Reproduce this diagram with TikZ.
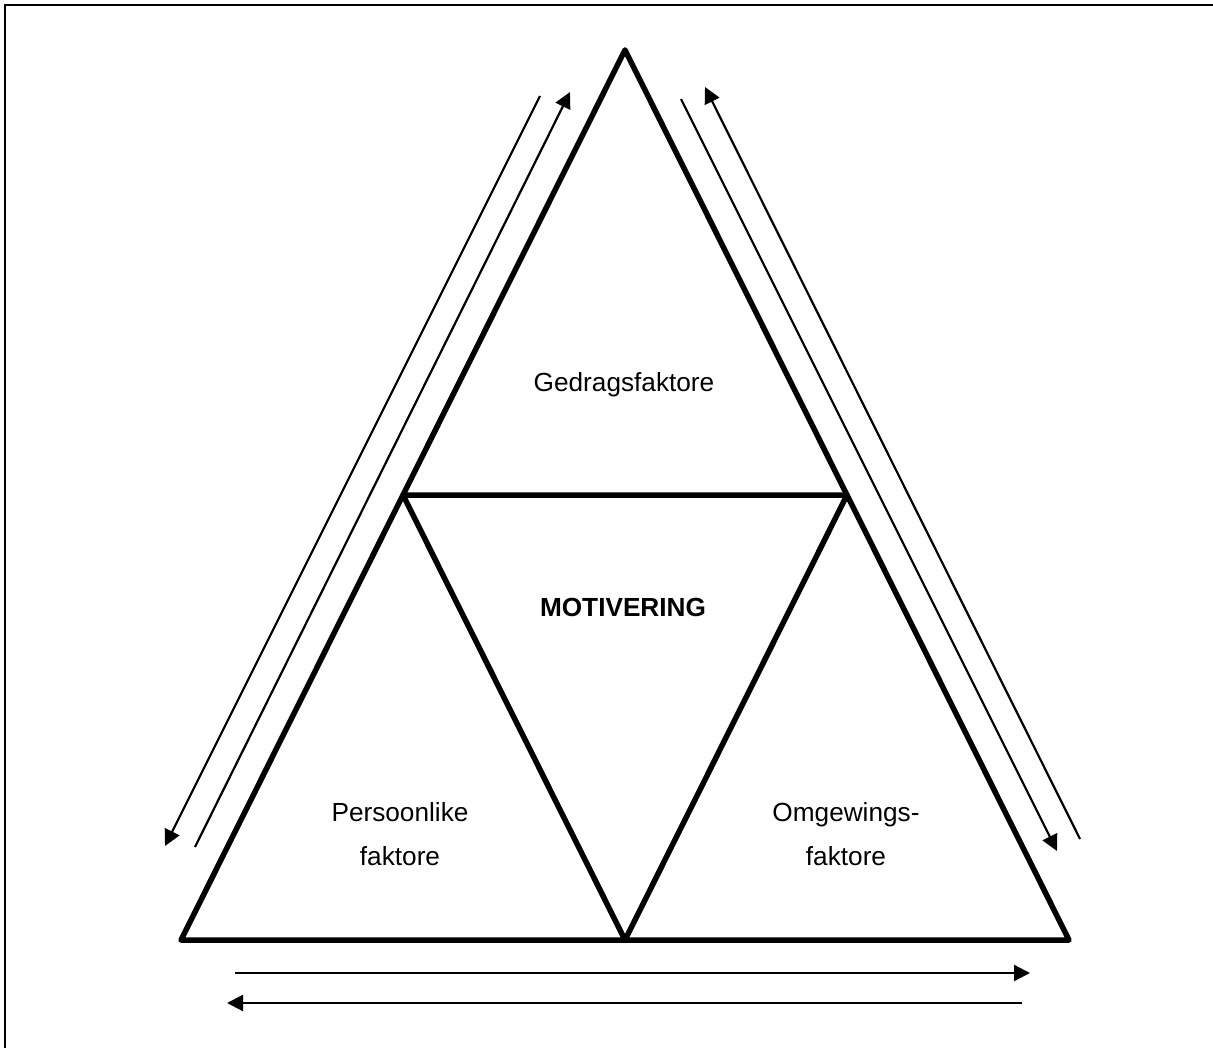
\documentclass[tikz,border=0pt]{standalone}
\usepackage{fontspec}
\setmainfont{Liberation Sans}
\usetikzlibrary{arrows.meta}
\begin{document}
\begin{tikzpicture}[x=1pt,y=-1pt,
  tri/.style={line width=5.5pt,line join=round,line cap=round},
  flow/.style={line width=2.2pt},
  tip/.style={-{Triangle[length=16pt,width=16pt]}},
  lbl/.style={font=\fontsize{26.2}{44}\selectfont,align=center,inner sep=0pt}]
  \useasboundingbox (0,0) rectangle (1213,1048);
  % frame (top and left edges)
  \draw[line width=2.6pt] (5,1048) -- (5,5) -- (1213,5);

  % corners of the large triangle and its edge midpoints
  \coordinate (A) at (625,50);
  \coordinate (B) at (181,940);
  \coordinate (C) at (1069,940);
  \coordinate (L) at (403,495);
  \coordinate (R) at (847,495);
  \coordinate (M) at (625,940);
  \draw[tri] (A) -- (B) -- (C) -- cycle;
  \draw[tri] (L) -- (R) -- (M) -- cycle;

  % labels
  \node[lbl] (g) at (624,385) {Gedragsfaktore};
  \node[lbl,font=\fontsize{26.2}{44}\selectfont\bfseries] (m) at (623,607) {MOTIVERING};
  \node[lbl] (p) at (400,834) {Persoonlike\\faktore};
  \node[lbl] (o) at (846,834) {Omgewings-\\faktore};

  % arrows along the left side
  \coordinate (l1s) at (540,96);  \coordinate (l1e) at (165,846);
  \coordinate (l2s) at (195,847); \coordinate (l2e) at (570,92);
  \draw[flow,tip] (l1s) -- (l1e);
  \draw[flow,tip] (l2s) -- (l2e);

  % arrows along the right side
  \coordinate (r1s) at (681,99);   \coordinate (r1e) at (1057,851);
  \coordinate (r2s) at (1080,839); \coordinate (r2e) at (705,87);
  \draw[flow,tip] (r1s) -- (r1e);
  \draw[flow,tip] (r2s) -- (r2e);

  % arrows below the base
  \coordinate (b1s) at (235,973);  \coordinate (b1e) at (1030,973);
  \coordinate (b2s) at (1022,1003); \coordinate (b2e) at (227,1003);
  \draw[flow,tip] (b1s) -- (b1e);
  \draw[flow,tip] (b2s) -- (b2e);
\end{tikzpicture}
\end{document}
